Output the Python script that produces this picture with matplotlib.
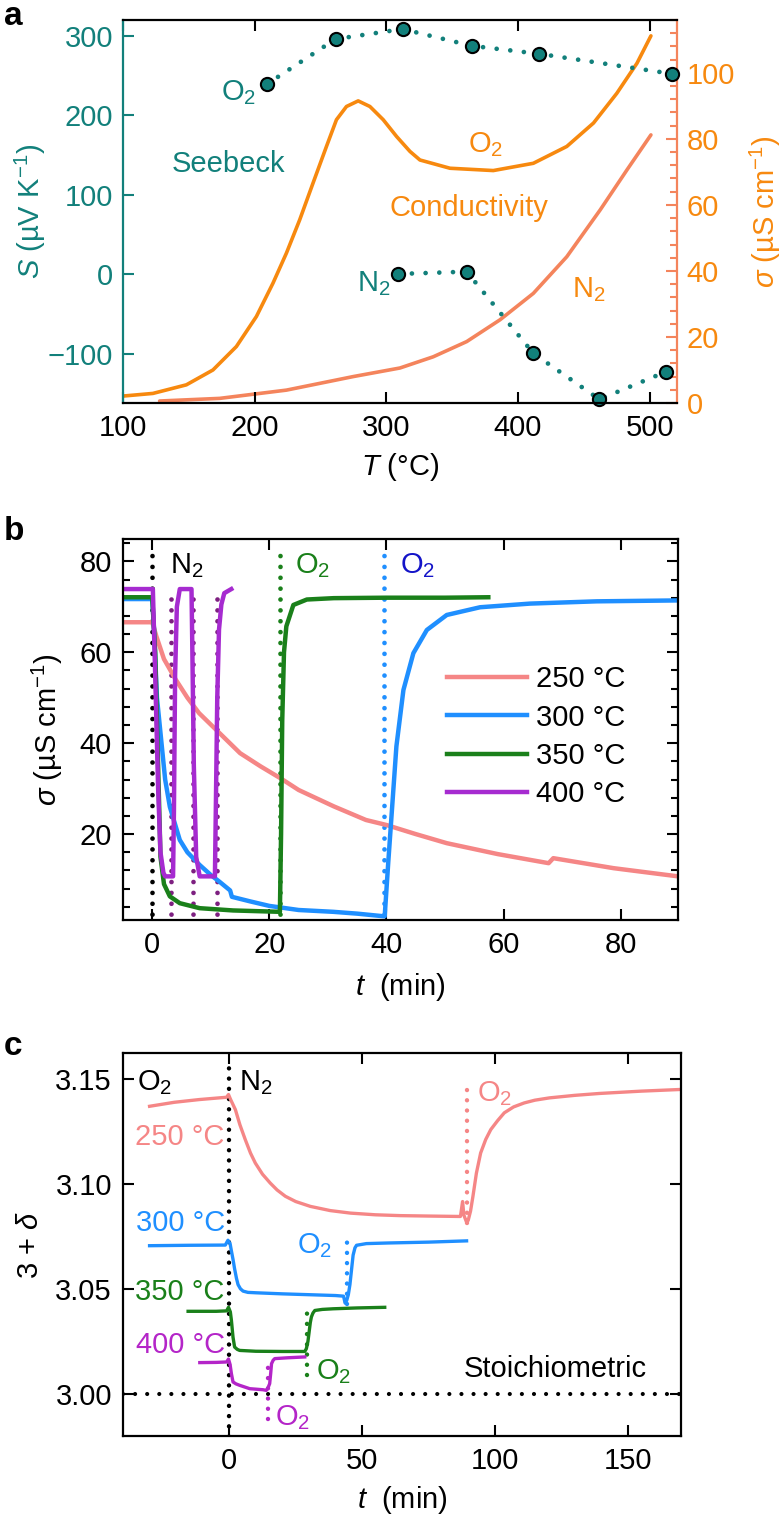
import matplotlib
matplotlib.use('Agg')
import matplotlib.pyplot as plt
from matplotlib.ticker import MultipleLocator

plt.rcParams['font.family'] = ['Liberation Sans', 'DejaVu Sans']
plt.rcParams['mathtext.fontset'] = 'custom'
plt.rcParams['mathtext.rm'] = 'Liberation Sans'
plt.rcParams['mathtext.it'] = 'Liberation Sans:italic'
plt.rcParams['mathtext.bf'] = 'Liberation Sans:bold'

FS = 21
W, H = 780, 1518

TEAL = '#12807b'
ORANGE = '#f7890f'
SALMON = '#f4845c'
PINK = '#f58686'
BLUE = '#1f8fff'
GREEN = '#1a801a'
PURPLE = '#a62bd0'
MAGENTA = '#b425c8'
PURPLE_DOT = '#7d1f80'
DARK_BLUE = '#1414c8'

# ---------------- panel a: Seebeck + conductivity vs T
seebeck_o2_T = [209, 261.4, 312.3, 364.8, 416.2, 516.9]
seebeck_o2_S = [239, 296, 308.6, 287.5, 277.4, 252.3]
seebeck_n2_T = [309, 361, 411.6, 461.8, 512.3]
seebeck_n2_S = [0.4, 3.3, -99.5, -157.4, -122.7]

cond_o2_T = [100, 122.7, 148.1, 168.3, 186.1, 201.3, 213.9, 224.1, 234.2, 244.3,
             254.5, 262.1, 269.7, 278.6, 287.5, 297.6, 307.8, 317.9, 325.5, 348.3,
             381.2, 411.6, 437, 457.3, 475, 490.3, 500.9]
cond_o2_sigma = [2.1, 2.9, 5.5, 10, 17.1, 26.2, 36.3, 45.4, 55.5, 66.6,
                 77.7, 85.8, 89.8, 91.5, 89.8, 85.8, 80.7, 76.2, 73.6, 71.1,
                 70.4, 72.6, 77.7, 84.8, 93.8, 102.9, 111.2]
cond_n2_T = [127.8, 173.4, 224.1, 274.8, 310.3, 335.6, 361, 386.3, 411.6, 437,
             462.4, 482.7, 500.9]
cond_n2_sigma = [0.6, 1.4, 3.9, 8, 10.6, 14, 18.6, 25.2, 33.2, 44.3,
                 58.5, 70.6, 81.2]

# ---------------- panel b: conductivity vs time
t250 = [-5, 0, 0.7, 2, 4, 6, 8, 11.5, 15, 18.5, 22, 25, 31, 36.5, 40, 45, 50.3, 59,
        67.7, 68.5, 78.8, 89.8]
s250 = [66.6, 66.6, 63.5, 58.5, 54, 50, 46.6, 42.2, 37.8, 34.9, 32.2, 29.7, 26.1,
        23.1, 22, 20, 18, 15.6, 13.6, 14.7, 12.5, 10.7]
t300 = [-5, 0, 0.3, 0.8, 1.5, 2.2, 3, 4.7, 6, 8.1, 10, 11.5, 13.3, 13.6, 16.7, 20,
        25, 30.9, 35, 39.7, 40.3, 40.9, 41.7, 42.9, 44.6, 46.9, 50.3, 56, 64.5,
        75.9, 89.8]
s300 = [71.7, 71.7, 65, 50, 41, 32, 26, 18.7, 16, 13.2, 11, 9.5, 7.6, 6.2, 5.2, 4.2,
        3.3, 2.9, 2.5, 1.9, 13.6, 24.6, 39.3, 51.7, 59.8, 64.9, 68.2, 69.9, 70.7,
        71.2, 71.4]
t350 = [-5, 0, 0.5, 1.0, 1.4, 2.0, 3, 4.7, 8.1, 13.8, 21.8, 22.0, 22.2, 22.5, 22.9,
        24.1, 26.4, 31, 40, 50, 57.4]
s350 = [72.1, 72.1, 60, 35, 15, 9, 6.3, 4.8, 3.7, 3.2, 2.9, 20, 45, 60, 65.7,
        70.4, 71.6, 71.9, 72.0, 72.0, 72.1]
t400 = [-5, 0.1, 0.5, 1.0, 1.4, 1.9, 2.2, 3.55, 3.7, 3.9, 4.2, 4.7, 6.7, 6.85, 7.1,
        7.5, 8.1, 10.7, 10.85, 11.1, 11.4, 11.8, 12.3, 13.5]
s400 = [73.9, 73.9, 55, 30, 16, 11.5, 10.7, 10.7, 25, 55, 70, 73.9, 73.9, 60, 35,
        15, 10.7, 10.7, 25, 50, 65, 70.5, 73, 73.9]
b_labels = ['250 °C', '300 °C', '350 °C', '400 °C']
n2_switch_b = 0
o2_switch_350 = 21.8
o2_switch_300 = 39.5
switches_400 = [3.2, 6.9, 11.0]

# ---------------- panel c: oxygen content vs time
c250_t = [-30, -20.7, -11.3, -1.0, -0.3, 0.5, 2.3, 4, 6, 8, 9.8, 12.5, 15.4, 18,
          21.1, 25, 30.5, 38, 45.6, 55, 64.4, 75, 87, 87.8, 88.3, 89.2, 89.9, 90.8,
          91.7, 93, 94.6, 96.5, 98.4, 101, 103.5, 107, 111, 115, 120.5, 130, 139.3,
          155, 169.8]
c250_d = [3.1368, 3.1387, 3.1400, 3.1411, 3.1424, 3.1400, 3.1352, 3.128, 3.121,
          3.1145, 3.1098, 3.1045, 3.1003, 3.097, 3.094, 3.0915, 3.0892, 3.0872,
          3.086, 3.0852, 3.0848, 3.0846, 3.0844, 3.0915, 3.085, 3.082, 3.0825,
          3.087, 3.094, 3.105, 3.1146, 3.121, 3.1257, 3.130, 3.1337, 3.1365,
          3.1384, 3.1397, 3.1408, 3.142, 3.1429, 3.144, 3.1448]
c300_t = [-30, -15, -1.5, -0.5, 0.3, 0.8, 1.4, 2.0, 2.7, 3.3, 4.2, 5.2, 7, 10.2, 20,
          30, 40, 43.0, 43.6, 44.2, 44.8, 45.4, 46.0, 46.6, 47.3, 47.9, 51.6, 60,
          75, 89.3]
c300_d = [3.0705, 3.0707, 3.0708, 3.0731, 3.0715, 3.068, 3.064, 3.0595, 3.055,
          3.052, 3.050, 3.0489, 3.0483, 3.0481, 3.0476, 3.0472, 3.0468, 3.0465,
          3.0432, 3.0445, 3.0472, 3.052, 3.059, 3.066, 3.0695, 3.0707, 3.0715,
          3.0718, 3.0722, 3.0728]
c350_t = [-15.5, -5, -1.0, -0.3, 0.4, 0.8, 1.4, 2.0, 3.0, 3.9, 10, 20, 28.4, 29.0,
          29.6, 30.0, 30.5, 30.9, 31.5, 32.2, 35, 39.1, 48, 58.5]
c350_d = [3.0393, 3.0393, 3.0395, 3.0412, 3.039, 3.035, 3.027, 3.0223, 3.0212,
          3.0207, 3.0203, 3.0202, 3.0202, 3.0215, 3.025, 3.029, 3.034, 3.0366,
          3.0385, 3.0397, 3.0402, 3.0405, 3.0409, 3.0412]
c400_t = [-11.1, -5, -1.0, -0.3, 0.3, 0.8, 1.4, 2.5, 3.9, 7.7, 12.7, 13.9, 14.6,
          15.2, 15.6, 15.9, 16.5, 17.1, 22, 28.4]
c400_d = [3.0149, 3.0150, 3.0152, 3.0166, 3.014, 3.0096, 3.0057, 3.0048, 3.0041,
          3.0025, 3.0020, 3.0017, 3.003, 3.0049, 3.010, 3.0144, 3.016, 3.0168,
          3.0172, 3.0176]
# switching markers: (time, low, high)
c_switch_250 = (89.4, 3.0813, 3.1463)
c_switch_300 = (44.4, 3.043, 3.0764)
c_switch_350 = (29.3, 3.009, 3.042)
c_switch_400 = (14.7, 2.988, 3.0173)
stoich = 3.00

DOT_A = (0, (0.001, 2.9))
DOT_B = (0, (0.001, 2.3))
DOT_C = (0, (0.001, 2.9))


def px_axes(left, top, right, bottom):
    return [left / W, 1 - bottom / H, (right - left) / W, (bottom - top) / H]


def box_ticks(ax, color='black'):
    ax.tick_params(which='both', direction='in', top=True, right=True,
                   labelsize=FS, width=1.5, colors=color, pad=8)
    ax.tick_params(which='major', length=8)
    ax.tick_params(which='minor', length=5)
    for sp in ax.spines.values():
        sp.set_linewidth(1.6)


fig = plt.figure(figsize=(W / 100, H / 100), dpi=100)

# ======== a
ax_a = fig.add_axes(px_axes(123, 20, 677, 403))
ax_a2 = ax_a.twinx()
ax_a.set_zorder(ax_a2.get_zorder() + 1)
ax_a.patch.set_visible(False)

ax_a2.plot(cond_o2_T, cond_o2_sigma, color=ORANGE, lw=2.6, solid_capstyle='round')
ax_a2.plot(cond_n2_T, cond_n2_sigma, color=SALMON, lw=2.6, solid_capstyle='round')
for T, S in [(seebeck_o2_T, seebeck_o2_S), (seebeck_n2_T, seebeck_n2_S)]:
    ax_a.plot(T, S, color=TEAL, lw=3.4, ls=DOT_A, dash_capstyle='round')
    ax_a.plot(T, S, 'o', ms=9.5, mfc=TEAL, mec='black', mew=1.5, clip_on=False)

ax_a.set_xlim(100, 520.7)
ax_a.set_ylim(-162, 320)
ax_a2.set_ylim(0, 116)
ax_a.xaxis.set_major_locator(MultipleLocator(100))
ax_a.yaxis.set_major_locator(MultipleLocator(100))
ax_a2.yaxis.set_major_locator(MultipleLocator(20))
ax_a2.yaxis.set_minor_locator(MultipleLocator(4))

ax_a.tick_params(axis='x', which='both', direction='in', top=True, labelsize=FS,
                 width=1.5, length=8, pad=8)
ax_a.tick_params(axis='y', direction='in', labelsize=FS, width=1.5, length=8,
                 colors=TEAL, pad=7)
ax_a2.tick_params(axis='y', which='both', direction='in', labelsize=FS, width=1.5,
                  color=SALMON, labelcolor=ORANGE, pad=7)
ax_a2.tick_params(axis='y', which='major', length=8)
ax_a2.tick_params(axis='y', which='minor', length=5)
ax_a.spines['left'].set_color(TEAL)
ax_a.spines['right'].set_visible(False)
ax_a2.spines['left'].set_visible(False)
ax_a2.spines['top'].set_visible(False)
ax_a2.spines['bottom'].set_visible(False)
ax_a2.spines['right'].set_color(SALMON)
for sp in list(ax_a.spines.values()) + list(ax_a2.spines.values()):
    sp.set_linewidth(1.6)

ax_a.set_xlabel('$T$ (°C)', fontsize=FS, va='center')
ax_a.xaxis.set_label_coords(0.5, -64 / 383)
ax_a.set_ylabel('$S$ (µV K$^{-1}$)', fontsize=FS, color=TEAL, va='center')
ax_a.yaxis.set_label_coords((30 - 123) / 554, 0.5)
ax_a2.set_ylabel('$\\sigma$ (µS cm$^{-1}$)', fontsize=FS, color=ORANGE,
                 va='center', rotation=90)
ax_a2.yaxis.set_label_coords((765 - 123) / 554, 0.5)

ax_a.text(201, 229, 'O$_2$', color=TEAL, fontsize=FS, ha='right', va='center')
ax_a.text(180, 139, 'Seebeck', color=TEAL, fontsize=FS, ha='center', va='center')
ax_a.text(375, 163, 'O$_2$', color=ORANGE, fontsize=FS, ha='center', va='center')
ax_a.text(363, 83, 'Conductivity', color=ORANGE, fontsize=FS, ha='center', va='center')
ax_a.text(303, -12, 'N$_2$', color=TEAL, fontsize=FS, ha='right', va='center')
ax_a.text(454, -19, 'N$_2$', color=ORANGE, fontsize=FS, ha='center', va='center')

# ======== b
ax_b = fig.add_axes(px_axes(123, 538.6, 678, 920))
ax_b.set_xlim(-5, 89.8)
ax_b.set_ylim(1.1, 85)

top_b = 83
ax_b.plot([n2_switch_b, n2_switch_b], [0, top_b], color='black', lw=3.4, ls=DOT_B,
          dash_capstyle='round')
ax_b.plot([o2_switch_350, o2_switch_350], [0, top_b], color=GREEN, lw=3.4, ls=DOT_B,
          dash_capstyle='round')
ax_b.plot([o2_switch_300, o2_switch_300], [0, top_b], color=BLUE, lw=3.4, ls=DOT_B,
          dash_capstyle='round')
for ts in switches_400:
    ax_b.plot([ts, ts], [0, 74], color=PURPLE_DOT, lw=3.4, ls=DOT_B,
              dash_capstyle='round')

series_b = [(t250, s250, PINK), (t300, s300, BLUE), (t350, s350, GREEN),
            (t400, s400, PURPLE)]
for (t, s, c), lab in zip(series_b, b_labels):
    ax_b.plot(t, s, color=c, lw=3.2, label=lab, solid_joinstyle='round')

ax_b.xaxis.set_major_locator(MultipleLocator(20))
ax_b.yaxis.set_major_locator(MultipleLocator(20))
ax_b.yaxis.set_minor_locator(MultipleLocator(4))
box_ticks(ax_b)
ax_b.tick_params(axis='x', which='minor', bottom=False, top=False)

ax_b.set_xlabel('$t$  (min)', fontsize=FS, va='center')
ax_b.xaxis.set_label_coords(0.5, -67 / 381.4)
ax_b.set_ylabel('$\\sigma$ (µS cm$^{-1}$)', fontsize=FS, va='center')
ax_b.yaxis.set_label_coords((47 - 123) / 555, 0.5)

ax_b.text(3.0, 79, 'N$_2$', color='black', fontsize=FS, ha='left', va='center')
ax_b.text(24.4, 79, 'O$_2$', color=GREEN, fontsize=FS, ha='left', va='center')
ax_b.text(42.3, 79, 'O$_2$', color=DARK_BLUE, fontsize=FS, ha='left', va='center')

ax_b.legend(loc='upper left', bbox_to_anchor=((447 - 123) / 555, (920 - 665) / 381.4),
            frameon=False, fontsize=FS, handlelength=2.75, handletextpad=0.3,
            labelspacing=0.36, borderpad=0, borderaxespad=0)

# ======== c
ax_c = fig.add_axes(px_axes(123, 1053.3, 681, 1436))
ax_c.set_xlim(-40, 170)
ax_c.set_ylim(2.98, 3.162)

ax_c.plot([-40, 170], [stoich, stoich], color='black', lw=3.0, ls=DOT_C,
          dash_capstyle='round')
ax_c.plot([0, 0], [2.97, 3.157], color='black', lw=3.2, ls=DOT_B, dash_capstyle='round')
for (ts, lo, hi), c in [(c_switch_250, PINK), (c_switch_300, BLUE),
                        (c_switch_350, GREEN), (c_switch_400, MAGENTA)]:
    ax_c.plot([ts, ts], [lo, hi], color=c, lw=3.2, ls=DOT_B, dash_capstyle='round')

for t, d, c in [(c250_t, c250_d, PINK), (c300_t, c300_d, BLUE),
                (c350_t, c350_d, GREEN), (c400_t, c400_d, MAGENTA)]:
    ax_c.plot(t, d, color=c, lw=2.4, solid_joinstyle='round')

ax_c.xaxis.set_major_locator(MultipleLocator(50))
ax_c.yaxis.set_major_locator(MultipleLocator(0.05))
ax_c.yaxis.set_major_formatter(plt.FormatStrFormatter('%.2f'))
box_ticks(ax_c)

ax_c.set_xlabel('$t$  (min)', fontsize=FS, va='center')
ax_c.xaxis.set_label_coords(0.5, -64 / 382.7)
ax_c.set_ylabel('3 + $\\delta$', fontsize=FS, va='center')
ax_c.yaxis.set_label_coords((30 - 123) / 558, 0.5)

ax_c.text(-34.6, 3.148, 'O$_2$', fontsize=FS, ha='left', va='center')
ax_c.text(3.6, 3.148, 'N$_2$', fontsize=FS, ha='left', va='center')
ax_c.text(93.4, 3.143, 'O$_2$', color=PINK, fontsize=FS, ha='left', va='center')
ax_c.text(-1.7, 3.1221, '250 °C', color=PINK, fontsize=FS, ha='right', va='center')
ax_c.text(-1.7, 3.0812, '300 °C', color=BLUE, fontsize=FS, ha='right', va='center')
ax_c.text(32.2, 3.0707, 'O$_2$', color=BLUE, fontsize=FS, ha='center', va='center')
ax_c.text(-1.7, 3.0483, '350 °C', color=GREEN, fontsize=FS, ha='right', va='center')
ax_c.text(-1.7, 3.0231, '400 °C', color=MAGENTA, fontsize=FS, ha='right', va='center')
ax_c.text(32.6, 3.0107, 'O$_2$', color=GREEN, fontsize=FS, ha='left', va='center')
ax_c.text(17.1, 2.9888, 'O$_2$', color=MAGENTA, fontsize=FS, ha='left', va='center')
ax_c.text(122.5, 3.0117, 'Stoichiometric', fontsize=FS, ha='center', va='center')

# panel letters
for letter, base in [('a', 25), ('b', 540), ('c', 1055)]:
    fig.text(4 / W, 1 - base / H, letter, fontsize=24, fontweight='bold',
             ha='left', va='baseline')

fig.savefig('out.png', dpi=100)
